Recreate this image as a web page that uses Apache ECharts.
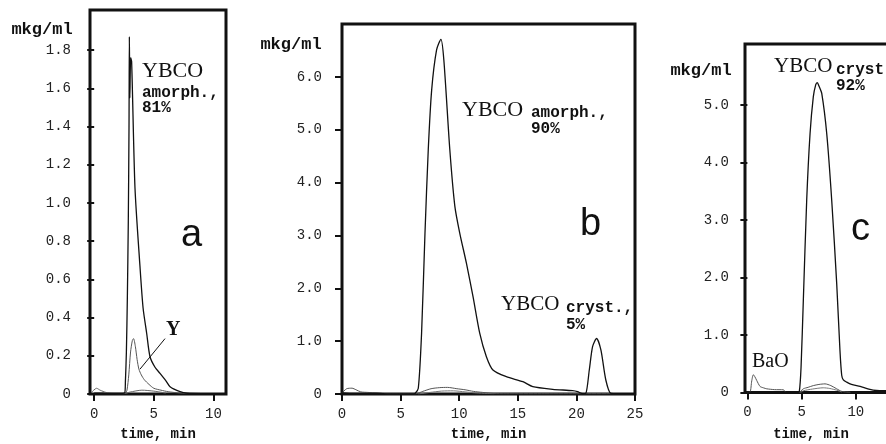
<!DOCTYPE html>
<html>
<head>
<meta charset="utf-8">
<title>Elution curves of YBCO samples</title>
<script src="https://cdn.jsdelivr.net/npm/echarts@6/dist/echarts.min.js"></script>
<style>
  html, body { margin: 0; padding: 0; background: #fff; }
  #chart { width: 886px; height: 444px; }
</style>
</head>
<body>
<div id="chart"></div>
<script>
// ---- panel a: amorphous YBCO, short column ----
const aMainT = [0, 0.5, 1.0, 2.0, 2.55, 2.62, 2.70, 2.78, 2.86, 2.92, 2.95, 2.99, 3.06, 3.14, 3.42, 3.84, 4.10, 4.40, 4.68, 5.10, 5.52, 6.00, 6.36, 7.20, 7.80, 9.0, 10.5];
const aMainV = [0.005, 0.005, 0.003, 0.003, 0.005, 0.07, 0.22, 0.50, 0.90, 1.40, 1.87, 1.55, 1.76, 1.74, 1.08, 0.667, 0.45, 0.318, 0.195, 0.14, 0.108, 0.07, 0.038, 0.012, 0.004, 0.002, 0.002];
const aYT = [2.60, 2.75, 2.90, 3.05, 3.20, 3.30, 3.45, 3.60, 3.75, 3.95, 4.20, 4.60, 5.00, 5.60, 6.20, 7.20, 8.0];
const aYV = [0, 0.02, 0.10, 0.22, 0.28, 0.29, 0.25, 0.18, 0.13, 0.10, 0.075, 0.05, 0.03, 0.02, 0.012, 0.005, 0.002];
const aMinorT = [-0.2, 0.2, 0.5, 1.0, 1.5, 2.5, 3.0, 4.0, 5.0, 6.0];
const aMinorV = [0.01, 0.03, 0.02, 0.008, 0.003, 0.002, 0.01, 0.02, 0.015, 0.005];
const aXTicks = [0, 5, 10];
const aYTicks = [0, 0.2, 0.4, 0.6, 0.8, 1.0, 1.2, 1.4, 1.6, 1.8];

// ---- panel b: amorphous YBCO with crystalline fraction ----
const bMainT = [0, 1, 2, 3, 4, 5, 6, 6.23, 6.51, 6.79, 7.08, 7.36, 7.65, 8.07, 8.44, 8.69, 9.20, 9.63, 10.05, 10.62, 11.18, 11.75, 12.32, 12.88, 14.02, 15.43, 16.28, 17.98, 19.68, 20.10, 20.53, 20.80, 21.10, 21.38, 21.72, 22.09, 22.51, 22.94, 23.5, 25];
const bMainV = [0.02, 0.01, 0.01, 0.01, 0, 0, 0, 0.01, 0.108, 1.15, 3.04, 4.62, 5.75, 6.51, 6.71, 6.32, 4.62, 3.55, 3.04, 2.47, 1.84, 1.15, 0.706, 0.454, 0.328, 0.233, 0.138, 0.089, 0.063, 0.044, 0.005, 0.01, 0.454, 0.895, 1.05, 0.833, 0.265, 0.01, 0.005, 0.005];
const bSec1T = [0, 0.4, 0.85, 1.2, 1.6, 2.2, 3, 4, 6.3, 6.9, 7.6, 8.3, 9.0, 9.8, 10.5, 11.2, 12, 12.9, 14, 17, 20, 25];
const bSec1V = [0.02, 0.10, 0.11, 0.08, 0.04, 0.03, 0.02, 0.005, 0.005, 0.05, 0.10, 0.12, 0.125, 0.10, 0.08, 0.05, 0.03, 0.01, 0.005, 0.005, 0.005, 0.005];
const bSec2T = [6.5, 7.5, 8.5, 9.5, 10.5, 11.5, 13];
const bSec2V = [0, 0.03, 0.055, 0.06, 0.04, 0.02, 0.005];
const bXTicks = [0, 5, 10, 15, 20, 25];
const bYTicks = [0, 1, 2, 3, 4, 5, 6];

// ---- panel c: crystalline YBCO ----
const cMainT = [0, 1, 2, 3, 4, 4.6, 4.79, 4.95, 5.16, 5.47, 5.78, 6.08, 6.30, 6.45, 6.60, 6.86, 7.32, 7.78, 8.24, 8.54, 8.70, 8.85, 9.16, 9.6, 10.4, 11.2, 11.9, 13, 15];
const cMainV = [0.005, 0.005, 0.005, 0.005, 0.005, 0.005, 0.02, 0.44, 1.60, 3.34, 4.50, 5.14, 5.35, 5.39, 5.33, 5.20, 4.50, 3.34, 1.89, 0.73, 0.30, 0.22, 0.18, 0.14, 0.105, 0.06, 0.035, 0.03, 0.02];
const cBaOT = [0, 0.25, 0.40, 0.55, 0.70, 0.86, 1.17, 1.50, 1.79, 2.5, 3.32, 3.5];
const cBaOV = [0.005, 0.01, 0.20, 0.31, 0.27, 0.21, 0.105, 0.08, 0.064, 0.05, 0.047, 0.005];
const cSec1T = [4.8, 5.16, 5.6, 6.08, 6.6, 7.16, 7.7, 8.24, 8.7, 9.5];
const cSec1V = [0, 0.064, 0.09, 0.12, 0.14, 0.15, 0.12, 0.064, 0.02, 0.005];
const cSec2T = [4.9, 5.16, 6.0, 7.0, 7.6, 8.24, 8.7];
const cSec2V = [0, 0.03, 0.06, 0.082, 0.07, 0.04, 0.01];
const cXTicks = [0, 5, 10, 15];
const cYTicks = [0, 1, 2, 3, 4, 5];

const zip = (t, v) => t.map((x, i) => [x, v[i]]);

const INK = '#111';
const MONO = '"Liberation Mono", "DejaVu Sans Mono", monospace';
const SERIF = '"Liberation Serif", "DejaVu Serif", serif';
const SANS = '"Liberation Sans", Arial, sans-serif';

function xAxisFor(gridIndex, min, max, ticks, name) {
  return {
    type: 'value', gridIndex, min, max,
    axisLine: { show: false },
    splitLine: { show: false },
    axisTick: { show: true, inside: false, length: 7, customValues: ticks, lineStyle: { color: INK, width: 2 } },
    axisLabel: { customValues: ticks, margin: 13, color: '#222', fontFamily: MONO, fontSize: 14 },
    name, nameLocation: 'middle', nameGap: 33,
    nameTextStyle: { color: INK, fontFamily: MONO, fontWeight: 'bold', fontSize: 14 }
  };
}
function yAxisFor(gridIndex, max, ticks, margin) {
  return {
    type: 'value', gridIndex, min: 0, max,
    axisLine: { show: false },
    splitLine: { show: false },
    axisTick: { show: true, inside: false, length: 7, customValues: ticks, lineStyle: { color: INK, width: 2 } },
    axisLabel: {
      customValues: ticks, margin, color: '#222', fontFamily: MONO, fontSize: 14,
      formatter: v => (v === 0 ? '0' : v.toFixed(1))
    }
  };
}
function line(xi, data, color, width) {
  return {
    type: 'line', xAxisIndex: xi, yAxisIndex: xi, data, showSymbol: false,
    smooth: 0.25, lineStyle: { color, width }, silent: true, animation: false
  };
}

function txt(x, y, text, font, align) {
  return {
    type: 'text', x, y, silent: true,
    style: { text, font, fill: INK, textAlign: align || 'left', textVerticalAlign: 'middle' }
  };
}

const chart = echarts.init(document.getElementById('chart'), null, { renderer: 'canvas' });

// fixed frames: axis labels may sit outside them and the last frame may run off the page
const gridStyle = {
  show: true, borderColor: INK, borderWidth: 3, backgroundColor: 'transparent',
  containLabel: false, outerBoundsMode: 'none'
};

chart.setOption({
  animation: false,
  backgroundColor: '#fff',
  grid: [
    Object.assign({ left: 90, top: 10, width: 136, bottom: 50 }, gridStyle),
    Object.assign({ left: 342, top: 24, width: 293, bottom: 50 }, gridStyle),
    Object.assign({ left: 745, top: 44, width: 165, bottom: 51.5 }, gridStyle)
  ],
  xAxis: [
    xAxisFor(0, -0.35, 11.05, aXTicks, 'time, min'),
    xAxisFor(1, 0, 25, bXTicks, 'time, min'),
    xAxisFor(2, -0.22, 15, cXTicks, '')
  ],
  yAxis: [
    yAxisFor(0, 2.01, aYTicks, 19),
    yAxisFor(1, 7, bYTicks, 20),
    yAxisFor(2, 6.06, cYTicks, 16)
  ],
  series: [
    line(0, zip(aMinorT, aMinorV), '#666', 1),
    Object.assign(line(0, zip(aYT, aYV), '#555', 1), {
      markLine: {
        silent: true, symbol: 'none', animation: false,
        label: { show: false },
        lineStyle: { color: INK, width: 1, type: 'solid' },
        data: [[{ coord: [5.94, 0.29] }, { coord: [3.84, 0.13] }]]
      }
    }),
    line(0, zip(aMainT, aMainV), INK, 1.3),
    line(1, zip(bSec2T, bSec2V), '#777', 1),
    line(1, zip(bSec1T, bSec1V), '#555', 1),
    line(1, zip(bMainT, bMainV), INK, 1.3),
    line(2, zip(cSec2T, cSec2V), '#777', 1),
    line(2, zip(cSec1T, cSec1V), '#555', 1),
    line(2, zip(cBaOT, cBaOV), '#555', 1),
    line(2, zip(cMainT, cMainV), INK, 1.3)
  ],
  graphic: [
    // y-axis units
    txt(42, 30, 'mkg/ml', 'bold 17px ' + MONO, 'center'),
    txt(291, 45, 'mkg/ml', 'bold 17px ' + MONO, 'center'),
    txt(701, 71, 'mkg/ml', 'bold 17px ' + MONO, 'center'),
    // time axis title of the last panel, under its visible part
    txt(811, 434, 'time, min', 'bold 14px ' + MONO, 'center'),
    // panel a
    txt(142, 71, 'YBCO', '22px ' + SERIF),
    txt(142, 93, 'amorph.,', 'bold 16px ' + MONO),
    txt(142, 108, '81%', 'bold 16px ' + MONO),
    txt(166, 330, 'Y', 'bold 20px ' + SERIF),
    txt(181, 236, 'a', '38px ' + SANS),
    // panel b
    txt(462, 110, 'YBCO', '22px ' + SERIF),
    txt(531, 113, 'amorph.,', 'bold 16px ' + MONO),
    txt(531, 129, '90%', 'bold 16px ' + MONO),
    txt(501, 304, 'YBCO', '21px ' + SERIF),
    txt(566, 308, 'cryst.,', 'bold 16px ' + MONO),
    txt(566, 325, '5%', 'bold 16px ' + MONO),
    txt(580, 225, 'b', '38px ' + SANS),
    // panel c
    txt(774, 66, 'YBCO', '21px ' + SERIF),
    txt(836, 70, 'cryst.,', 'bold 16px ' + MONO),
    txt(836, 86, '92%', 'bold 16px ' + MONO),
    txt(752, 362, 'BaO', '20px ' + SERIF),
    txt(851, 230, 'c', '38px ' + SANS)
  ]
});
</script>
</body>
</html>
